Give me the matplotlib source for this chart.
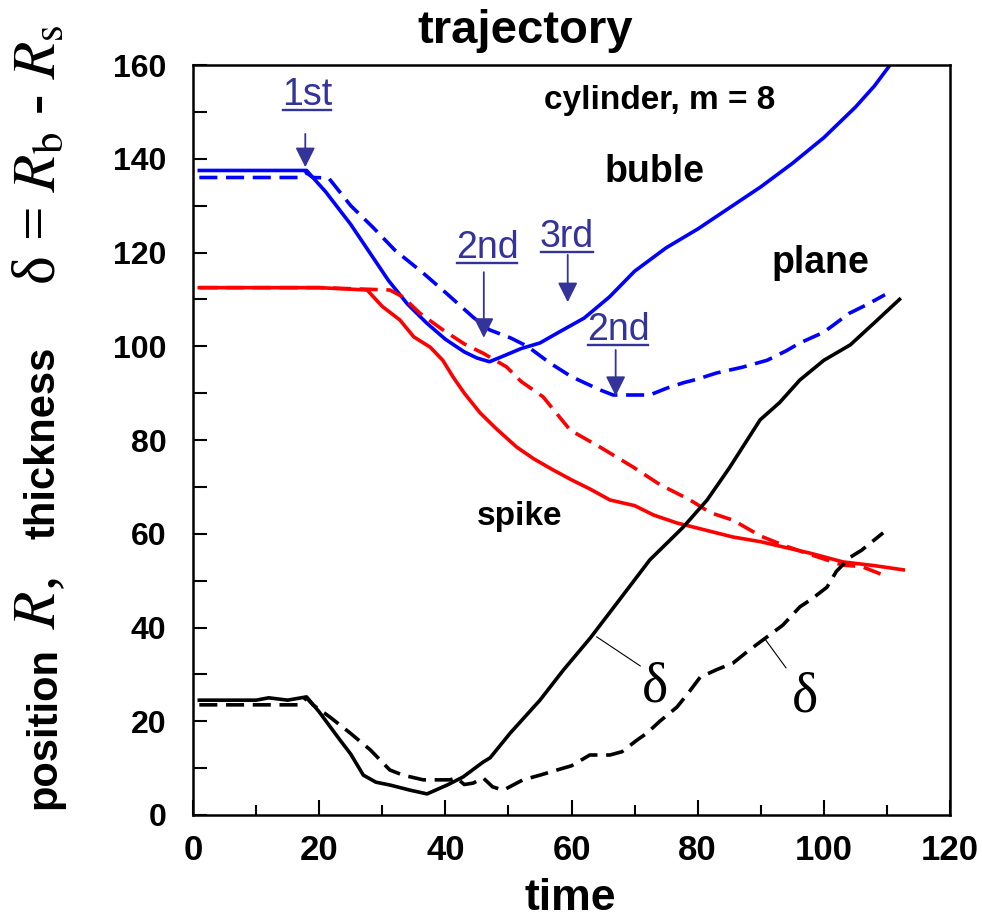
import matplotlib
matplotlib.use('Agg')
import matplotlib.pyplot as plt
from matplotlib.lines import Line2D
from matplotlib.ticker import MultipleLocator
import numpy as np

plt.rcParams['font.family'] = ['Liberation Sans', 'DejaVu Sans']
plt.rcParams['mathtext.fontset'] = 'stix'

## bubble front, cylinder (solid blue)
t_bub_cyl = [1, 5, 10, 15, 18, 21, 25, 28, 31, 34, 37, 40, 43, 45, 47, 49, 52, 55, 58, 62,
             66, 70, 75, 80, 85, 90, 95, 100, 105, 108, 110.5]
r_bub_cyl = [137.5, 137.5, 137.5, 137.5, 137.5, 133, 126, 120, 114, 109, 105, 101.5, 98.8, 97.5,
             96.7, 97.8, 99.5, 100.7, 103, 106, 110.5, 116, 121, 125, 129.5, 134, 139, 144.5,
             151, 155.5, 160]

## bubble front, plane (dashed blue)
t_bub_pln = [1, 10, 17, 18, 19, 21.5, 25, 28.5, 32, 36.5, 40, 44.4, 47, 50.3, 53, 56.6, 60,
             64.5, 66.6, 72.4, 75, 77.7, 80, 83, 87, 91, 94, 96.2, 100, 104, 107, 109.7]
r_bub_pln = [136, 136, 136, 137, 136, 135.9, 130, 125.4, 120.5, 115.6, 111.5, 106.2, 103.5,
             101.8, 100, 96.4, 93.5, 90.7, 89.6, 89.6, 91, 92.2, 93, 94.3, 95.5, 97, 99, 100.7,
             103, 107, 109, 111]

## spike front, cylinder (solid red)
t_spk_cyl = [1, 10, 20, 27.6, 30, 32.8, 35, 37.6, 39.6, 41.2, 43, 45.5, 48, 51.3, 54, 57.1, 60,
             63, 66.1, 70, 73, 76.7, 80, 85.6, 90, 93.5, 98, 103, 108, 112.6]
r_spk_cyl = [112.5, 112.5, 112.5, 112, 108.5, 105.6, 102, 99.8, 97, 93.5, 90, 85.8, 82.5, 78.5,
             76, 73.6, 71.5, 69.5, 67.2, 66, 64, 62.3, 61.2, 59.3, 58.3, 57.2, 55.8, 54, 53.2,
             52.3]

## spike front, plane (dashed red)
t_spk_pln = [1, 10, 20, 31.2, 33.3, 36, 39.6, 43, 46, 49.7, 52, 55.5, 59.8, 64.5, 69.8, 74,
             78.8, 82, 85.6, 90, 93.5, 98, 103, 106, 109.4]
r_spk_pln = [112.5, 112.5, 112.5, 112, 110.5, 107, 103.5, 100.5, 98.5, 95.6, 92.5, 89.2, 82.1,
             78.5, 74.2, 70.5, 67.2, 64.5, 62.9, 59.5, 57.6, 55.5, 53.3, 53, 51.2]

## mixing layer thickness, cylinder (solid black)
t_dlt_cyl = [1, 5, 10, 12, 15, 18, 20, 23.3, 25, 27, 29, 31.2, 34.4, 37.1, 40.3, 42.8, 46,
             47.1, 50.3, 55, 58.7, 63, 67.2, 72.4, 77.7, 81.5, 85, 89.9, 93, 96.2, 100, 104.2,
             108, 112]
d_dlt_cyl = [24.5, 24.5, 24.5, 25, 24.5, 25.2, 22, 16, 13, 8.5, 7, 6.4, 5.3, 4.5, 6.4, 8.1,
             11.3, 12.2, 17.5, 24.5, 30.9, 37.8, 45.2, 54.4, 61.4, 67.2, 74, 84.3, 88, 92.8, 97,
             100.3, 105, 110]

## mixing layer thickness, plane (dashed black)
t_dlt_pln = [1, 10, 17, 18, 19, 21.7, 24.9, 28.1, 31.2, 33.3, 36.5, 40.7, 41.8, 43, 44.4, 46,
             47.5, 49.2, 52.3, 55, 57.7, 60, 62.9, 66.1, 68, 70.4, 72, 74, 76.7, 78.5, 80.4, 83,
             85.6, 88, 91, 93.5, 96.2, 98, 100.5, 102, 104.2, 106, 109.4]
d_dlt_pln = [23.5, 23.5, 23.5, 25, 23.5, 20.9, 17.5, 13.9, 9.6, 8.5, 7.5, 7.5, 7.9, 6.5, 6.8,
             7.9, 6, 5.3, 7.5, 8.5, 9.6, 10.5, 12.8, 12.8, 13.5, 16, 17.5, 20, 23, 26, 29.4, 31,
             32.4, 35, 38, 40.5, 44.4, 46, 48.6, 52, 55, 56.5, 60.2]

## collision labels: text, text position, arrow tail, arrow tip
hit_labels = ['1st', '2nd', '3rd', '2nd']
hit_text_xy = [(18.1, 153.6), (46.6, 121.0), (59.3, 123.3), (67.4, 103.5)]
hit_arrow_from = [(17.8, 145.3), (46.1, 115.8), (59.4, 119.5), (67.0, 99.2)]
hit_arrow_to = [(17.8, 138.2), (46.1, 101.8), (59.4, 109.4), (67.0, 89.4)]

W, H = 982, 922
fig = plt.figure(figsize=(W / 100, H / 100), dpi=100)
ax = fig.add_axes([193 / W, 1 - 815 / H, (950 - 193) / W, (815 - 65) / H])

lw = 2.6
dash = (0, (5, 2.4))
ax.plot(t_bub_cyl, r_bub_cyl, color='#0000ff', lw=lw)
ax.plot(t_bub_pln, r_bub_pln, color='#0000ff', lw=lw, linestyle=dash)
ax.plot(t_spk_cyl, r_spk_cyl, color='#ff0000', lw=lw)
ax.plot(t_spk_pln, r_spk_pln, color='#ff0000', lw=lw, linestyle=dash)
ax.plot(t_dlt_cyl, d_dlt_cyl, color='black', lw=lw)
ax.plot(t_dlt_pln, d_dlt_pln, color='black', lw=lw, linestyle=dash)

ax.set_xlim(0, 120)
ax.set_ylim(0, 160)
ax.xaxis.set_major_locator(MultipleLocator(20))
ax.xaxis.set_minor_locator(MultipleLocator(10))
ax.yaxis.set_major_locator(MultipleLocator(20))
ax.yaxis.set_minor_locator(MultipleLocator(10))
for s in ax.spines.values():
    s.set_linewidth(1.8)
ax.tick_params(axis='x', which='major', direction='in', length=11, width=1.5, pad=14,
               labelsize=25)
ax.tick_params(axis='x', which='minor', direction='in', length=7, width=1.5)
ax.tick_params(axis='y', which='both', direction='in', length=10, width=1.5, pad=19,
               labelsize=23)
for lab in ax.get_xticklabels() + ax.get_yticklabels():
    lab.set_fontweight('bold')

## free text on the plot
ax.text(74, 152.5, 'cylinder, m = 8', ha='center', va='center', fontsize=24, fontweight='bold')
ax.text(73.2, 137.2, 'buble', ha='center', va='center', fontsize=27, fontweight='bold')
ax.text(99.4, 117.8, 'plane', ha='center', va='center', fontsize=27, fontweight='bold')
ax.text(51.8, 63.6, 'spike', ha='center', va='center', fontsize=24, fontweight='bold')

## delta markers with leader lines
ax.plot([64.0, 70.9], [38.0, 31.8], color='black', lw=0.8)
ax.plot([90.8, 94.0], [37.3, 31.4], color='black', lw=0.8)
ax.text(73.2, 27.1, 'δ', ha='center', va='center', fontsize=40,
        family=['Liberation Serif', 'DejaVu Serif'])
ax.text(97.0, 25.0, 'δ', ha='center', va='center', fontsize=40,
        family=['Liberation Serif', 'DejaVu Serif'])

## collision arrows
hit_color = '#333399'
hit_texts = []
for lab, txy, a0, a1 in zip(hit_labels, hit_text_xy, hit_arrow_from, hit_arrow_to):
    hit_texts.append(ax.text(txy[0], txy[1], lab, ha='center', va='center', fontsize=27,
                             color=hit_color))
    ax.annotate('', xy=a1, xytext=a0,
                arrowprops=dict(arrowstyle='-|>,head_length=0.6,head_width=0.3',
                                mutation_scale=20, color=hit_color, lw=1.3,
                                shrinkA=0, shrinkB=0))

## title and x label
fig.text(525 / W, 1 - 43 / H, 'trajectory', ha='center', va='baseline', fontsize=34,
         fontweight='bold')
fig.text(570 / W, 1 - 910 / H, 'time', ha='center', va='baseline', fontsize=32,
         fontweight='bold')

## y label, built from pieces with different fonts
serif = ['Liberation Serif', 'DejaVu Serif']
ylab_parts = [
    ('position', 728, dict(fontsize=30, fontweight='bold')),
    (r'$R$,', 603, dict(fontsize=44, family=serif)),
    ('thickness', 443, dict(fontsize=30, fontweight='bold')),
    (r'δ = $R_\mathrm{b}$ - $R_\mathrm{s}$', 155, dict(fontsize=44, family=serif)),
]
for txt, yc, kw in ylab_parts:
    fig.text(55 / W, 1 - yc / H, txt, rotation=90, rotation_mode='anchor',
             ha='center', va='baseline', **kw)

## underline the collision labels
fig.canvas.draw()
renderer = fig.canvas.get_renderer()
inv = fig.transFigure.inverted()
for t in hit_texts:
    bb = t.get_window_extent(renderer)
    (x0, y0), (x1, _) = inv.transform([(bb.x0 + 1, bb.y0 + 3), (bb.x1 - 1, bb.y0 + 3)])
    fig.add_artist(Line2D([x0, x1], [y0, y0], transform=fig.transFigure,
                          color=hit_color, lw=1.7))

fig.savefig('out.png', dpi=100)
